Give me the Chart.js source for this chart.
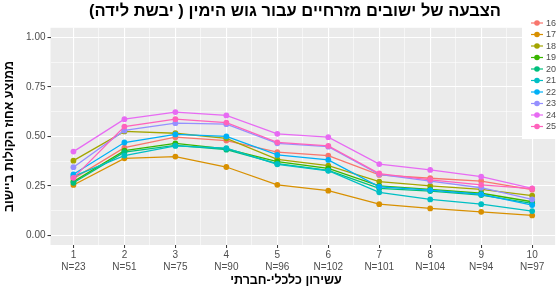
<!DOCTYPE html>
<html>
<head>
<meta charset="utf-8">
<script src="https://cdn.jsdelivr.net/npm/chart.js@4.4.0/dist/chart.umd.min.js"></script>
<style>
html, body { margin: 0; padding: 0; background: #fff; }
canvas { display: block; direction: rtl; }
</style>
</head>
<body>
<canvas id="chart" width="558" height="295"></canvas>
<script>
var deciles = [1, 2, 3, 4, 5, 6, 7, 8, 9, 10];
var nCounts = [23, 51, 75, 90, 96, 102, 101, 104, 94, 97];
var groups = ['16', '17', '18', '19', '20', '21', '22', '23', '24', '25'];

var v16 = [0.286, 0.443, 0.496, 0.479, 0.420, 0.403, 0.305, 0.288, 0.274, 0.230];
var v17 = [0.254, 0.389, 0.398, 0.345, 0.255, 0.225, 0.157, 0.135, 0.118, 0.100];
var v18 = [0.377, 0.525, 0.516, 0.490, 0.384, 0.352, 0.271, 0.249, 0.232, 0.200];
var v19 = [0.271, 0.428, 0.465, 0.437, 0.372, 0.338, 0.249, 0.232, 0.212, 0.169];
var v20 = [0.265, 0.420, 0.455, 0.433, 0.362, 0.328, 0.237, 0.223, 0.203, 0.161];
var v21 = [0.298, 0.403, 0.452, 0.440, 0.359, 0.326, 0.217, 0.181, 0.157, 0.122];
var v22 = [0.308, 0.469, 0.510, 0.500, 0.406, 0.381, 0.245, 0.228, 0.207, 0.152];
var v23 = [0.344, 0.530, 0.567, 0.562, 0.465, 0.448, 0.308, 0.274, 0.240, 0.181];
var v24 = [0.423, 0.587, 0.623, 0.606, 0.513, 0.496, 0.360, 0.330, 0.296, 0.237];
var v25 = [0.290, 0.550, 0.587, 0.570, 0.470, 0.452, 0.312, 0.280, 0.255, 0.235];

var seriesValues = [v16, v17, v18, v19, v20, v21, v22, v23, v24, v25];
var colors = ['#F8766D', '#D89000', '#A3A500', '#39B600', '#00BF7D',
              '#00BFC4', '#00B0F6', '#9590FF', '#E76BF3', '#FF62BC'];

var titleText = 'הצבעה של ישובים מזרחיים עבור גוש הימין ( יבשת לידה)';
var xTitle = 'עשירון כלכלי-חברתי';
var yTitle = 'ממוצע אחוז הקולות ביישוב';

var fontFamily = '"Liberation Sans", Arial, sans-serif';

function isMajor(v, step) {
    return Math.abs(v / step - Math.round(v / step)) < 1e-9;
}

// gray panel, x axis title and the legend box that sits over the panel
var ggPanel = {
    id: 'ggPanel',
    afterLayout: function (chart) {
        // ggplot centres the title a bit left of the panel centre
        chart.titleBlock.left = 32;
        chart.titleBlock.right = 558;
    },
    beforeDraw: function (chart) {
        var ctx = chart.ctx, a = chart.chartArea;
        ctx.save();
        ctx.fillStyle = '#ffffff';
        ctx.fillRect(0, 0, chart.width, chart.height);
        ctx.fillStyle = '#EBEBEB';
        ctx.fillRect(a.left, a.top, a.right - a.left, a.bottom - a.top);
        ctx.restore();
    },
    afterDraw: function (chart) {
        var ctx = chart.ctx;
        var ds = chart.data.datasets;
        ctx.save();
        ctx.fillStyle = '#000000';
        ctx.font = 'bold 12.5px ' + fontFamily;
        ctx.textAlign = 'center';
        ctx.textBaseline = 'middle';
        ctx.fillText(xTitle, 286, 281);

        ctx.fillStyle = '#ffffff';
        ctx.fillRect(522, 14, 36, 125);
        ctx.font = '9px ' + fontFamily;
        ctx.textAlign = 'left';
        for (var i = 0; i < ds.length; i++) {
            var y = 23 + i * 11.5;
            ctx.strokeStyle = ds[i].borderColor;
            ctx.lineWidth = 1.2;
            ctx.beginPath();
            ctx.moveTo(531, y);
            ctx.lineTo(543, y);
            ctx.stroke();
            ctx.fillStyle = ds[i].borderColor;
            ctx.beginPath();
            ctx.arc(537, y, 2.8, 0, Math.PI * 2);
            ctx.fill();
            ctx.fillStyle = '#4D4D4D';
            ctx.fillText(ds[i].label, 546, y + 0.5);
        }
        ctx.restore();
    }
};

var datasets = groups.map(function (g, i) {
    return {
        label: g,
        data: deciles.map(function (d, j) { return { x: d, y: seriesValues[i][j] }; }),
        borderColor: colors[i],
        backgroundColor: colors[i],
        borderWidth: 1.3,
        pointRadius: 2.9,
        pointBorderWidth: 0,
        pointHoverRadius: 2.9,
        tension: 0,
        order: groups.length - i
    };
});

var tickFont = { family: fontFamily, size: 10 };

new Chart(document.getElementById('chart').getContext('2d'), {
    type: 'line',
    data: { datasets: datasets },
    plugins: [ggPanel],
    options: {
        responsive: false,
        animation: false,
        devicePixelRatio: 1,
        layout: { padding: { left: 0, right: 1, top: 0, bottom: 0 } },
        plugins: {
            legend: { display: false },
            tooltip: { enabled: false },
            title: {
                display: true,
                text: titleText,
                fullSize: false,
                color: '#000',
                font: { family: fontFamily, size: 16.5, weight: 'bold' },
                padding: { top: 2, bottom: 6 }
            }
        },
        scales: {
            x: {
                type: 'linear',
                min: 0.55,
                max: 10.45,
                afterBuildTicks: function (scale) {
                    var t = [];
                    for (var v = 1; v <= 10; v += 0.5) t.push({ value: v });
                    scale.ticks = t;
                },
                afterFit: function (scale) { scale.height = 50; },
                border: { display: false },
                grid: {
                    color: '#ffffff',
                    lineWidth: function (c) { return c.tick && isMajor(c.tick.value, 1) ? 1.1 : 0.55; },
                    tickColor: function (c) { return c.tick && isMajor(c.tick.value, 1) ? '#333333' : 'rgba(0,0,0,0)'; },
                    tickLength: 3,
                    tickWidth: 1
                },
                ticks: {
                    autoSkip: false,
                    maxRotation: 0,
                    padding: 1,
                    color: '#4D4D4D',
                    font: tickFont,
                    callback: function (v) {
                        if (!isMajor(v, 1)) return '';
                        return [String(v), 'N=' + nCounts[v - 1]];
                    }
                },
                title: { display: false }
            },
            y: {
                type: 'linear',
                min: -0.05,
                max: 1.05,
                afterBuildTicks: function (scale) {
                    var t = [];
                    for (var k = 0; k <= 8; k++) t.push({ value: k * 0.125 });
                    scale.ticks = t;
                },
                afterFit: function (scale) { scale.width = 50.5; },
                border: { display: false },
                grid: {
                    color: '#ffffff',
                    lineWidth: function (c) { return c.tick && isMajor(c.tick.value, 0.25) ? 1.1 : 0.55; },
                    tickColor: function (c) { return c.tick && isMajor(c.tick.value, 0.25) ? '#333333' : 'rgba(0,0,0,0)'; },
                    tickLength: 3,
                    tickWidth: 1
                },
                ticks: {
                    autoSkip: false,
                    padding: 2,
                    color: '#4D4D4D',
                    font: tickFont,
                    callback: function (v) {
                        return isMajor(v, 0.25) ? v.toFixed(2) : '';
                    }
                },
                title: {
                    display: true,
                    text: yTitle,
                    color: '#000',
                    font: { family: fontFamily, size: 12.5, weight: 'bold' },
                    padding: { top: 2.5, bottom: 0 }
                }
            }
        }
    }
});
</script>
</body>
</html>
